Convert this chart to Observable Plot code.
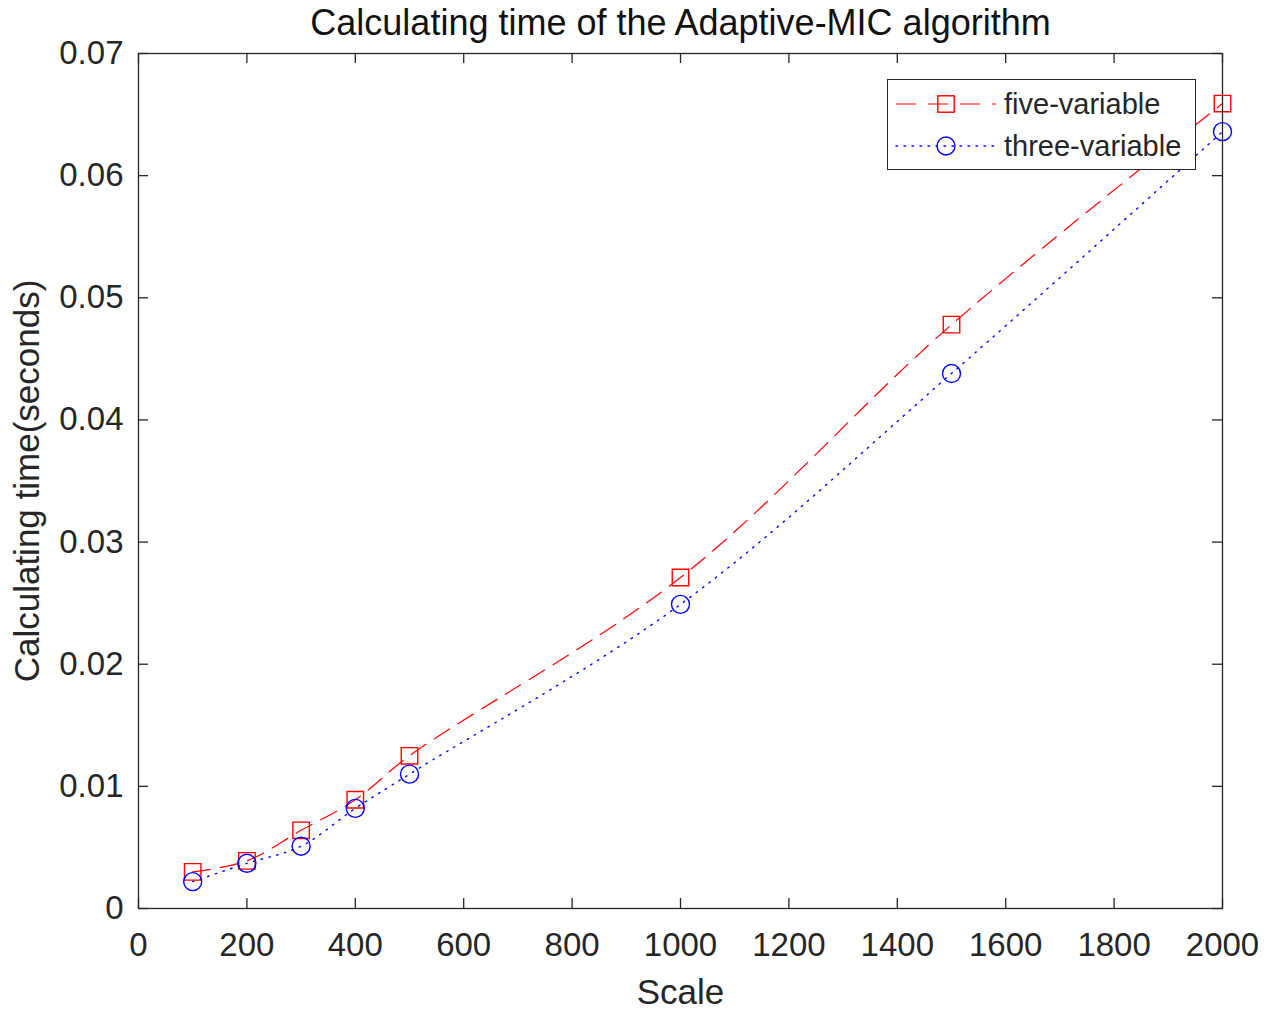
<!DOCTYPE html>
<html><head><meta charset="utf-8">
<script src="https://cdn.jsdelivr.net/npm/d3@7"></script>
<script src="https://cdn.jsdelivr.net/npm/@observablehq/plot@0.6"></script>
<style>
body{margin:0;background:#fff;}
#wrap{position:relative;width:1271px;height:1010px;font-family:"Liberation Sans",Arial,sans-serif;}
#legend{position:absolute;left:887px;top:79px;width:309px;height:91px;box-sizing:border-box;border:1.3px solid #262626;background:#fff;}
</style></head><body><div id="wrap"></div>
<script>
const scales = [100, 200, 300, 400, 500, 1000, 1500, 2000];
const fiveVar = [0.0030, 0.0039, 0.0064, 0.0089, 0.0125, 0.0271, 0.0478, 0.0659];
const threeVar = [0.0022, 0.0037, 0.0051, 0.0082, 0.0110, 0.0249, 0.0438, 0.0636];
const seriesNames = ["five-variable", "three-variable"];
const seriesColors = ["#ff0000", "#0000ff"];
const xTicks = [0, 200, 400, 600, 800, 1000, 1200, 1400, 1600, 1800, 2000];
const yTicks = [0, 0.01, 0.02, 0.03, 0.04, 0.05, 0.06, 0.07];
const yTickLabels = ["0", "0.01", "0.02", "0.03", "0.04", "0.05", "0.06", "0.07"];
const titleText = "Calculating time of the Adaptive-MIC algorithm";
const xLabel = "Scale";
const yLabel = "Calculating time(seconds)";

const five = scales.map((s, i) => ({x: s, y: fiveVar[i]}));
const three = scales.map((s, i) => ({x: s, y: threeVar[i]}));

const W = 1271, H = 1010, mL = 138, mR = 49, mT = 53, mB = 102;
const pw = W - mL - mR, ph = H - mT - mB;
const axisColor = "#262626";
const tick = 10;
const font = '"Liberation Sans", Arial, sans-serif';

const chart = Plot.plot({
  width: W, height: H,
  marginLeft: mL, marginRight: mR, marginTop: mT, marginBottom: mB,
  x: {domain: [0, 2000], axis: null},
  y: {domain: [0, 0.07], axis: null},
  style: {fontFamily: font, color: axisColor, background: "white", overflow: "visible"},
  marks: [
    Plot.line(five, {x: "x", y: "y", stroke: seriesColors[0], strokeWidth: 1.2, strokeDasharray: "18,10", curve: "catmull-rom"}),
    Plot.line(three, {x: "x", y: "y", stroke: seriesColors[1], strokeWidth: 1.4, strokeDasharray: "1.5,6.5", strokeLinecap: "round", curve: "catmull-rom"}),
    Plot.dot(five, {x: "x", y: "y", symbol: "square", r: 9.3, stroke: seriesColors[0], strokeWidth: 1.4, fill: "none"}),
    Plot.dot(three, {x: "x", y: "y", symbol: "circle", r: 9, stroke: seriesColors[1], strokeWidth: 1.4, fill: "none"}),
    Plot.frame({stroke: axisColor, strokeWidth: 1.3}),
    Plot.tickX(xTicks, {x: d => d, insetTop: ph - tick, stroke: axisColor, strokeWidth: 1.3}),
    Plot.tickX(xTicks, {x: d => d, insetBottom: ph - tick, stroke: axisColor, strokeWidth: 1.3}),
    Plot.tickY(yTicks, {y: d => d, insetRight: pw - tick, stroke: axisColor, strokeWidth: 1.3}),
    Plot.tickY(yTicks, {y: d => d, insetLeft: pw - tick, stroke: axisColor, strokeWidth: 1.3}),
    Plot.text(xTicks, {x: d => d, frameAnchor: "bottom", lineAnchor: "middle", dy: 37, text: d => String(d), fontSize: 33, fill: axisColor}),
    Plot.text(yTicks, {y: d => d, frameAnchor: "left", lineAnchor: "middle", dx: -15, textAnchor: "end", text: (d, i) => yTickLabels[i], fontSize: 33, fill: axisColor}),
    Plot.text([xLabel], {frameAnchor: "bottom", lineAnchor: "middle", textAnchor: "middle", dy: 84, text: d => d, fontSize: 35, fill: axisColor}),
    Plot.text([yLabel], {frameAnchor: "left", lineAnchor: "middle", textAnchor: "middle", dx: -111, rotate: -90, text: d => d, fontSize: 35, fill: axisColor}),
    Plot.text([titleText], {frameAnchor: "top", lineAnchor: "middle", textAnchor: "middle", dy: -30, text: d => d, fontSize: 36, fill: "#111"})
  ]
});

const wrap = document.getElementById("wrap");
wrap.appendChild(chart);

// legend
const leg = document.createElement("div");
leg.id = "legend";
const ns = "http://www.w3.org/2000/svg";
const lsvg = document.createElementNS(ns, "svg");
lsvg.setAttribute("width", 307); lsvg.setAttribute("height", 89);
lsvg.style.display = "block";
const rows = [24, 66];
seriesNames.forEach((name, i) => {
  const y = rows[i];
  const line = document.createElementNS(ns, "line");
  line.setAttribute("x1", 8); line.setAttribute("x2", 108);
  line.setAttribute("y1", y); line.setAttribute("y2", y);
  line.setAttribute("stroke", seriesColors[i]);
  line.setAttribute("stroke-width", i === 0 ? 1.2 : 1.4);
  line.setAttribute("stroke-dasharray", i === 0 ? "20,12" : "1.5,6.5");
  line.setAttribute("stroke-linecap", i === 0 ? "butt" : "round");
  lsvg.appendChild(line);
  let m;
  if (i === 0) {
    m = document.createElementNS(ns, "rect");
    m.setAttribute("x", 58 - 8.2); m.setAttribute("y", y - 8.2);
    m.setAttribute("width", 16.4); m.setAttribute("height", 16.4);
  } else {
    m = document.createElementNS(ns, "circle");
    m.setAttribute("cx", 58); m.setAttribute("cy", y); m.setAttribute("r", 9);
  }
  m.setAttribute("fill", "none"); m.setAttribute("stroke", seriesColors[i]); m.setAttribute("stroke-width", 1.4);
  lsvg.appendChild(m);
  const t = document.createElementNS(ns, "text");
  t.setAttribute("x", 116); t.setAttribute("y", y);
  t.setAttribute("dy", "0.36em");
  t.setAttribute("font-size", 29);
  t.setAttribute("fill", axisColor);
  t.setAttribute("font-family", font);
  t.textContent = name;
  lsvg.appendChild(t);
});
leg.appendChild(lsvg);
wrap.appendChild(leg);
</script></body></html>
